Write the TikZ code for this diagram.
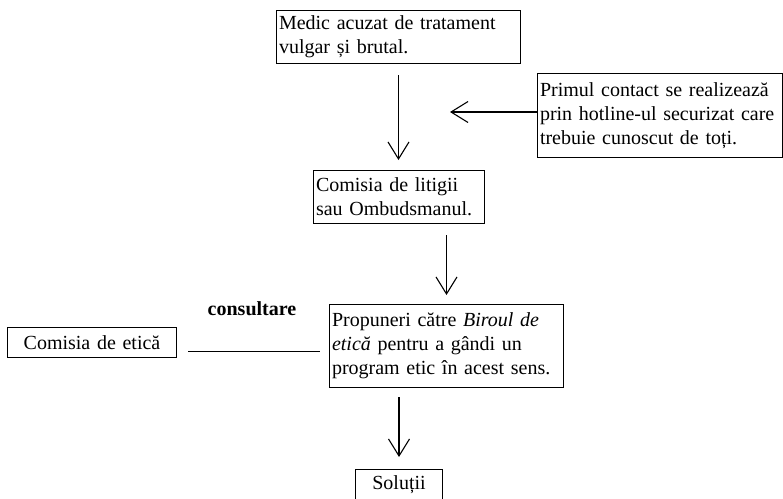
\documentclass[tikz,border=0pt]{standalone}
\usepackage{fontspec}
\setmainfont{Liberation Serif}
\usetikzlibrary{arrows.meta}
\begin{document}
\begin{tikzpicture}[x=1pt,y=-1pt,
  box/.style={draw,line width=1pt,inner xsep=2.5pt,inner ysep=2pt,anchor=north west,
    align=left,font=\fontsize{20}{24}\selectfont},
  cbox/.style={draw,line width=1pt,inner xsep=2.5pt,inner ysep=2pt,anchor=north west,
    align=center,font=\fontsize{20}{24}\selectfont},
  arr/.style={line width=1.1pt,-{Straight Barb[length=17pt,width=21pt,line width=1.1pt]}},
  conn/.style={line width=1.1pt}]
\useasboundingbox (0,0) rectangle (783,498);
\node[box,minimum width=244pt,minimum height=53pt,text width=239pt] (medic) at (276,10)
  {\mbox{Medic acuzat de tratament}\\\mbox{vulgar și brutal.}};
\node[box,minimum width=245pt,minimum height=84pt,text width=240pt] (primul) at (537,73)
  {\mbox{Primul contact se realizează}\\\mbox{prin hotline-ul securizat care}\\\mbox{trebuie cunoscut de toți.}};
\node[box,minimum width=171pt,minimum height=53pt,text width=166pt] (comisia) at (313,170)
  {\mbox{Comisia de litigii}\\\mbox{sau Ombudsmanul.}};
\node[box,minimum width=234pt,minimum height=83pt,text width=229pt] (prop) at (329,304)
  {\mbox{Propuneri către \textit{Biroul de}}\\\mbox{\textit{etică} pentru a gândi un}\\\mbox{program etic în acest sens.}};
\node[cbox,minimum width=87pt,minimum height=30pt,text width=82pt] (sol) at (355,469)
  {Soluții};
\node[cbox,minimum width=169pt,minimum height=30pt,text width=164pt] (etica) at (7,327)
  {Comisia de etică};
\node[font=\fontsize{20}{24}\selectfont\bfseries] (cons) at (252,309) {consultare};
\coordinate (hotend) at (450,112);
\draw[arr,shorten <=11pt,shorten >=10pt] (medic.south) -- (medic.south |- comisia.north);
\draw[arr] (primul.west |- hotend) -- (hotend);
\draw[arr,shorten <=11pt,shorten >=9pt] (prop.north |- comisia.south) -- (prop.north);
\draw[arr,shorten <=9pt,shorten >=12pt] (sol.north |- prop.south) -- (sol.north);
\draw[conn,shorten <=11pt,shorten >=9pt] ([yshift=-9pt]etica.east) -- ([yshift=-9pt]etica.east -| prop.west);
\end{tikzpicture}
\end{document}
